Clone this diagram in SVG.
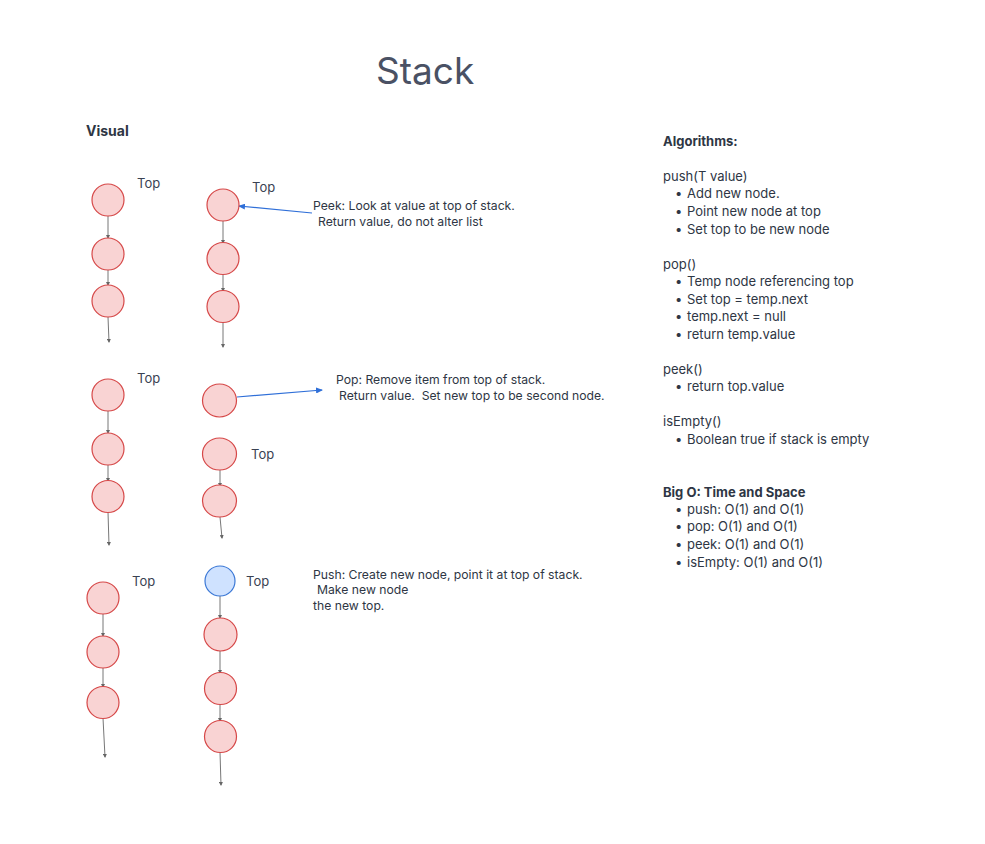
<svg xmlns="http://www.w3.org/2000/svg" width="985" height="844" viewBox="0 0 985 844">
<defs>
<marker id="ag" markerWidth="4" markerHeight="4" refX="3" refY="2" orient="auto" markerUnits="userSpaceOnUse"><path d="M0,0 L4,2 L0,4 z" fill="#666"/></marker>
<marker id="ab" markerWidth="7" markerHeight="6" refX="6" refY="3" orient="auto" markerUnits="userSpaceOnUse"><path d="M0,0 L7,3 L0,6 z" fill="#2f6fd8"/></marker>
<style>
.n{fill:#f9d3d3;stroke:#d64848;stroke-width:1.2}
.nb{fill:#cfe2ff;stroke:#3b78d6;stroke-width:1.2}
.c{stroke:#777;stroke-width:1;fill:none;marker-end:url(#ag)}
.cb{stroke:#2f6fd8;stroke-width:1.2;fill:none;marker-end:url(#ab)}
text{font-family:Inter,"Noto Sans","Liberation Sans",sans-serif;fill:#2e3644;font-size:13px}
.l{font-size:12.2px;white-space:pre}
.t{fill:#3a4252;font-size:13px}
.h{font-weight:bold}
.title{font-size:37px;fill:#4a5164}
</style>
</defs>
<rect width="985" height="844" fill="#fff"/>
<text class="title" x="376" y="84">Stack</text>
<text class="h" x="86" y="136" style="font-size:14px">Visual</text>

<g id="connectors">
<line class="c" x1="108" y1="216" x2="108" y2="238"/>
<line class="c" x1="108" y1="270" x2="108" y2="285"/>
<line class="c" x1="108" y1="317" x2="109" y2="342"/>
<line class="c" x1="223" y1="221" x2="223" y2="243"/>
<line class="c" x1="223" y1="274" x2="223" y2="291"/>
<line class="c" x1="223" y1="322" x2="223" y2="347"/>
<line class="cb" x1="312" y1="213" x2="239" y2="206"/>
<line class="c" x1="108" y1="411" x2="108" y2="433"/>
<line class="c" x1="108" y1="465" x2="108" y2="481"/>
<line class="c" x1="108" y1="512" x2="109" y2="545"/>
<line class="c" x1="220" y1="470" x2="220" y2="486"/>
<line class="c" x1="220" y1="517" x2="222" y2="538"/>
<line class="cb" x1="237" y1="397" x2="322" y2="390"/>
<line class="c" x1="103" y1="614" x2="103" y2="636"/>
<line class="c" x1="103" y1="668" x2="103" y2="687"/>
<line class="c" x1="103" y1="718" x2="105" y2="757"/>
<line class="c" x1="220" y1="596" x2="220" y2="618"/>
<line class="c" x1="220" y1="651" x2="220" y2="673"/>
<line class="c" x1="220" y1="704" x2="220" y2="721"/>
<line class="c" x1="220" y1="752" x2="221" y2="785"/>
</g>

<g id="stack1a">
<circle class="n" cx="108" cy="200" r="16"/>
<circle class="n" cx="108" cy="254" r="16"/>
<circle class="n" cx="108" cy="301" r="16"/>
<text class="t" x="137" y="188">Top</text>
</g>
<g id="stack1b">
<circle class="n" cx="223" cy="205" r="16"/>
<circle class="n" cx="223" cy="258.5" r="16"/>
<circle class="n" cx="223" cy="306.5" r="16"/>
<text class="t" x="252" y="192">Top</text>
</g>
<g id="peek-label">
<text class="l" x="313" y="210">Peek: Look at value at top of stack.</text>
<text class="l" x="318" y="226">Return value, do not alter list</text>
</g>

<g id="stack2a">
<circle class="n" cx="108" cy="395" r="16"/>
<circle class="n" cx="108" cy="449" r="16"/>
<circle class="n" cx="108" cy="496.5" r="16"/>
<text class="t" x="137" y="383">Top</text>
</g>
<g id="stack2b">
<ellipse class="n" cx="219.5" cy="400.5" rx="17" ry="16.5"/>
<ellipse class="n" cx="219.5" cy="454" rx="17" ry="16"/>
<ellipse class="n" cx="219.5" cy="501" rx="17" ry="16"/>
<text class="t" x="251" y="459">Top</text>
</g>
<g id="pop-label">
<text class="l" x="336" y="384">Pop: Remove item from top of stack.</text>
<text class="l" x="339" y="400">Return value.  Set new top to be second node.</text>
</g>

<g id="stack3a">
<circle class="n" cx="103" cy="598" r="16"/>
<circle class="n" cx="103" cy="652" r="16"/>
<circle class="n" cx="103" cy="702.5" r="16"/>
<text class="t" x="132" y="586">Top</text>
</g>
<g id="stack3b">
<circle class="nb" cx="220" cy="581" r="15"/>
<circle class="n" cx="220.5" cy="634.5" r="16.5"/>
<circle class="n" cx="220.5" cy="688.5" r="16"/>
<circle class="n" cx="220.5" cy="736.5" r="16"/>
<text class="t" x="246" y="586">Top</text>
</g>
<g id="push-label">
<text class="l" x="313" y="579">Push: Create new node, point it at top of stack.</text>
<text class="l" x="317" y="594">Make new node</text>
<text class="l" x="313" y="610">the new top.</text>
</g>

<g id="algorithms">
<text class="h" x="663" y="146">Algorithms:</text>
<text x="663" y="181">push(T value)</text>
<text x="675" y="198">•</text><text x="687" y="198">Add new node.</text>
<text x="675" y="216">•</text><text x="687" y="216">Point new node at top</text>
<text x="675" y="234">•</text><text x="687" y="234">Set top to be new node</text>
<text x="663" y="269">pop()</text>
<text x="675" y="286">•</text><text x="687" y="286">Temp node referencing top</text>
<text x="675" y="304">•</text><text x="687" y="304">Set top = temp.next</text>
<text x="675" y="321">•</text><text x="687" y="321">temp.next = null</text>
<text x="675" y="339">•</text><text x="687" y="339">return temp.value</text>
<text x="663" y="374">peek()</text>
<text x="675" y="391">•</text><text x="687" y="391">return top.value</text>
<text x="663" y="426">isEmpty()</text>
<text x="675" y="444">•</text><text x="687" y="444">Boolean true if stack is empty</text>
<text class="h" x="663" y="497">Big O: Time and Space</text>
<text x="675" y="514">•</text><text x="687" y="514">push: O(1) and O(1)</text>
<text x="675" y="531">•</text><text x="687" y="531">pop: O(1) and O(1)</text>
<text x="675" y="549">•</text><text x="687" y="549">peek: O(1) and O(1)</text>
<text x="675" y="567">•</text><text x="687" y="567">isEmpty: O(1) and O(1)</text>
</g>
</svg>
